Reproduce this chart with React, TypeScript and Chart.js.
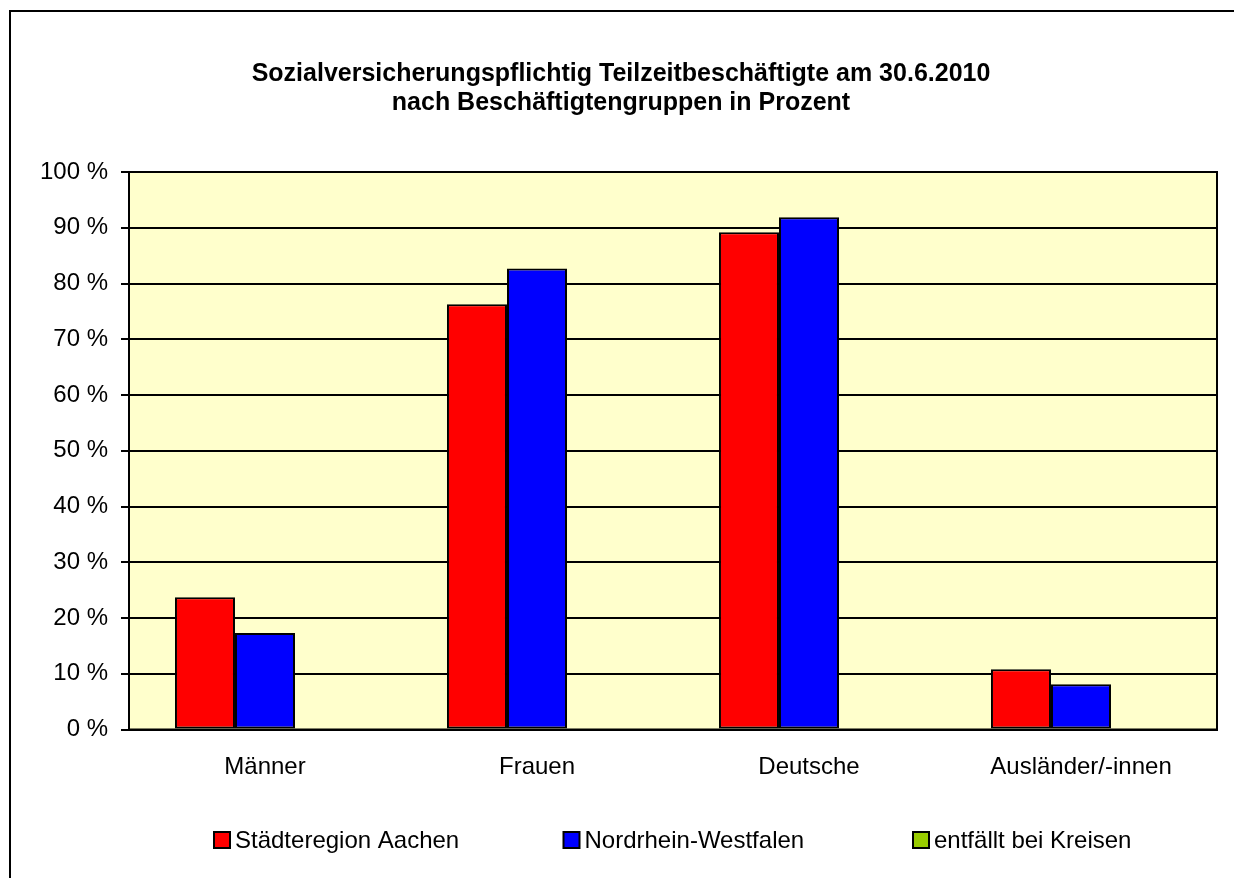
import React, { useEffect, useRef } from "react";
import { Chart, registerables } from "chart.js";

Chart.register(...registerables);

const categories = ["Männer", "Frauen", "Deutsche", "Ausländer/-innen"];
const seriesNames = ["Städteregion Aachen", "Nordrhein-Westfalen", "entfällt bei Kreisen"];
const aachen = [23.7, 76.3, 89.2, 10.8];
const nrw = [17.3, 82.7, 91.9, 8.1];
const kreise: (number | null)[] = [null, null, null, null];
const seriesColors = ["#FF0000", "#0000FF", "#99CC00"];
const titleLines = [
  "Sozialversicherungspflichtig Teilzeitbeschäftigte am 30.6.2010",
  "nach Beschäftigtengruppen in Prozent",
];
const FONT = "'Liberation Sans', Arial, sans-serif";

export default function App() {
  const ref = useRef<HTMLCanvasElement | null>(null);
  useEffect(() => {
    if (!ref.current) return;
    const decor = {
      id: "decor",
      beforeDraw(chart: any) {
        const { ctx, chartArea: a } = chart;
        ctx.save();
        ctx.fillStyle = "#FFFFCC";
        ctx.fillRect(a.left, a.top, a.right - a.left, a.bottom - a.top);
        ctx.strokeStyle = "#000";
        ctx.lineWidth = 2;
        ctx.beginPath();
        ctx.moveTo(2, chart.height + 5);
        ctx.lineTo(2, 3);
        ctx.lineTo(chart.width + 5, 3);
        ctx.stroke();
        ctx.restore();
      },
      afterDatasetsDraw(chart: any) {
        const { ctx, chartArea: a } = chart;
        ctx.save();
        ctx.strokeStyle = "#000";
        ctx.lineWidth = 2;
        ctx.strokeRect(a.left, a.top, a.right - a.left, a.bottom - a.top);
        ctx.restore();
      },
      afterDraw(chart: any) {
        const { ctx } = chart;
        ctx.save();
        ctx.fillStyle = "#000";
        ctx.textAlign = "center";
        ctx.textBaseline = "middle";
        ctx.font = `bold 25px ${FONT}`;
        titleLines.forEach((t, i) => ctx.fillText(t, 613, 66 + i * 29));
        ctx.font = `24px ${FONT}`;
        ctx.textAlign = "left";
        const ly = 832;
        chart.data.datasets.forEach((ds: any, i: number) => {
          const x = 206 + i * 349.5;
          ctx.fillStyle = ds.backgroundColor;
          ctx.fillRect(x, ly - 8, 16, 16);
          ctx.strokeStyle = "#000";
          ctx.lineWidth = 2;
          ctx.strokeRect(x, ly - 8, 16, 16);
          ctx.fillStyle = "#000";
          ctx.fillText(ds.label, x + 21, ly + 1);
        });
        ctx.restore();
      },
    };
    const chart = new Chart(ref.current, {
      type: "bar",
      data: {
        labels: categories,
        datasets: [
          { label: seriesNames[0], data: aachen, backgroundColor: seriesColors[0] },
          { label: seriesNames[1], data: nrw, backgroundColor: seriesColors[1] },
          { label: seriesNames[2], data: kreise, backgroundColor: seriesColors[2] },
        ].map((d) => ({
          ...d,
          borderColor: "#000",
          borderWidth: 2,
          borderSkipped: false,
          categoryPercentage: 0.662,
          barPercentage: 1,
        })),
      },
      options: {
        responsive: false,
        animation: false,
        layout: { padding: { top: 164, right: 17, left: 0, bottom: 88 } },
        plugins: { legend: { display: false }, title: { display: false }, tooltip: { enabled: false } },
        scales: {
          x: {
            grid: { display: false, drawTicks: false },
            border: { color: "#000", width: 2 },
            ticks: { color: "#000", font: { family: FONT, size: 24 }, padding: 23, maxRotation: 0 },
            afterFit: (s: any) => { s.height = 60.5; },
          },
          y: {
            min: 0,
            max: 100,
            ticks: {
              stepSize: 10,
              color: "#000",
              font: { family: FONT, size: 24 },
              padding: 13,
              callback: (v: any) => `${v} %`,
            },
            grid: { color: "#000", lineWidth: 2, tickLength: 8, tickColor: "#000" },
            border: { color: "#000", width: 2 },
            afterFit: (s: any) => { s.width = 121; },
          },
        },
      },
      plugins: [decor],
    });
    return () => chart.destroy();
  }, []);
  return <canvas ref={ref} width={1226} height={870} style={{ display: "block" }} />;
}
